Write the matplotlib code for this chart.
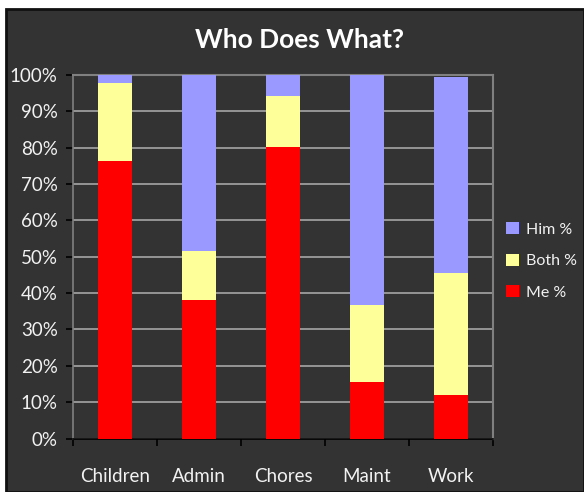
import matplotlib
matplotlib.use("Agg")
import matplotlib.pyplot as plt
from matplotlib.patches import Rectangle
from matplotlib.ticker import PercentFormatter, MultipleLocator
import numpy as np

categories = ["Children", "Admin", "Chores", "Maint", "Work"]
me_pct = [76.4, 38.0, 80.2, 15.5, 12.0]
both_pct = [21.4, 13.6, 14.1, 21.2, 33.5]
him_pct = [2.2, 48.4, 5.7, 63.3, 53.9]

bg = "#333333"
txt = "#f2f2f2"
plt.rcParams["font.family"] = ["Lato", "DejaVu Sans"]

fig = plt.figure(figsize=(5.84, 4.92), dpi=100, facecolor="white")
# dark chart area with a thin black border, kept behind the axes
fig.patches.append(Rectangle((6 / 584, 0), 1 - 6 / 584, 1 - 9 / 492,
                             transform=fig.transFigure, facecolor=bg,
                             edgecolor="#111111", linewidth=2, zorder=-10))

ax = fig.add_axes([73 / 584, 1 - 438.5 / 492, 420 / 584, 363.5 / 492])
ax.set_facecolor(bg)

x = np.arange(len(categories))
me = np.array(me_pct)
both = np.array(both_pct)
him = np.array(him_pct)
w = 0.4
ax.bar(x, me, w, color="#ff0000", label="Me %", zorder=3)
ax.bar(x, both, w, bottom=me, color="#ffff99", label="Both %", zorder=3)
ax.bar(x, him, w, bottom=me + both, color="#9999ff", label="Him %", zorder=3)

ax.set_xlim(-0.5, len(categories) - 0.5)
ax.set_ylim(0, 100)
ax.yaxis.set_major_locator(MultipleLocator(10))
ax.yaxis.set_major_formatter(PercentFormatter(decimals=0))
ax.grid(axis="y", color="#a6a6a6", linewidth=1.2, zorder=1)

ax.set_xticks(x)
ax.set_xticklabels(categories)
ax.set_xticks(np.arange(-0.5, len(categories)), minor=True)
ax.tick_params(axis="x", which="major", length=0, pad=21, colors=txt, labelsize=13.5)
ax.tick_params(axis="x", which="minor", length=5, width=1.2, color="black")
ax.tick_params(axis="y", length=5, width=1.2, color="black", labelcolor=txt,
               labelsize=13.5, pad=6)

for side in ["top", "right"]:
    ax.spines[side].set_color("#808080")
    ax.spines[side].set_linewidth(1.5)
for side in ["left", "bottom"]:
    ax.spines[side].set_color("black")
    ax.spines[side].set_linewidth(1.2)
ax.spines["left"].set_color("#808080")

fig.text(0.512, 1 - 40 / 492, "Who Does What?", ha="center", va="center",
         color="white", fontsize=19, fontweight="bold")

handles, labels = ax.get_legend_handles_labels()
leg = fig.legend(handles[::-1], labels[::-1], loc="center left",
                 bbox_to_anchor=(495 / 584, 1 - 261 / 492), frameon=False,
                 fontsize=11.5, labelcolor=txt, handlelength=0.8, handleheight=0.8,
                 handletextpad=0.45, labelspacing=1.05, borderpad=0.2)

fig.savefig("out.png", dpi=100, facecolor="white")
